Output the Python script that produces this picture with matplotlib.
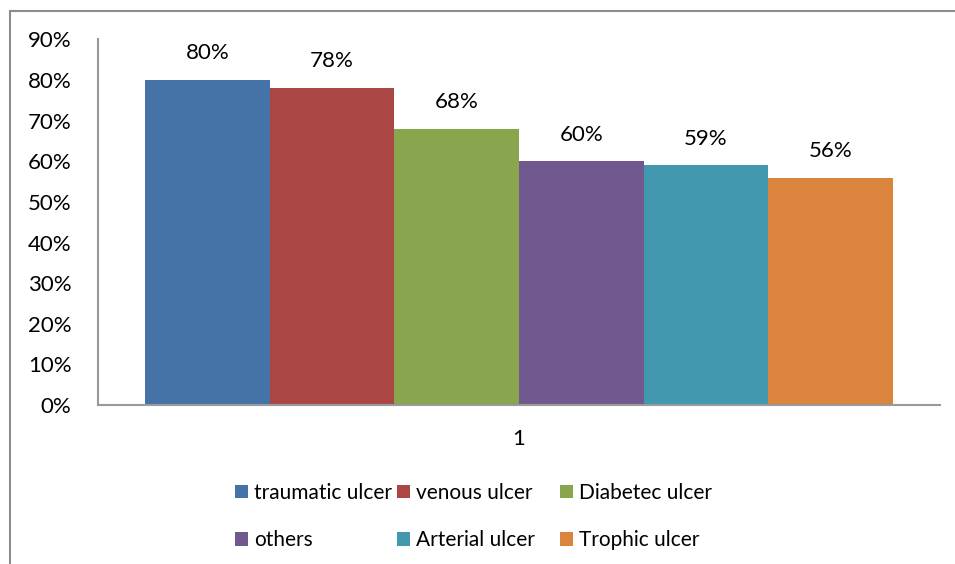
import matplotlib.pyplot as plt
from matplotlib.lines import Line2D
from matplotlib.patches import Patch

# Porcentaje por tipo de úlcera
categorias = ["traumatic ulcer", "venous ulcer", "Diabetec ulcer",
              "others", "Arterial ulcer", "Trophic ulcer"]
valores = [80, 78, 68, 60, 59, 56]
colores = ["#4572A7", "#AA4643", "#89A54E", "#71588F", "#4198AF", "#DB843D"]
y_ticks = [0, 10, 20, 30, 40, 50, 60, 70, 80, 90]
x_label = "1"

plt.rcParams["font.family"] = ["Lato", "DejaVu Sans"]
fs = 16
fs_leyenda = 15

fig = plt.figure(figsize=(9.55, 5.64), dpi=100)
ax = fig.add_axes([98 / 955, 1 - 405 / 564, 842 / 955, 365.6 / 564])

pos = list(range(len(valores)))
barras = ax.bar(pos, valores, width=1.0, color=colores, edgecolor="none")

# Etiquetas de valor sobre cada barra
for b, v in zip(barras, valores):
    ax.annotate(f"{v}%", (b.get_x() + b.get_width() / 2, v),
                xytext=(0, 12), textcoords="offset points",
                ha="center", va="bottom", fontsize=fs, color="black")

ax.set_xlim(-0.877, 5.877)
ax.set_ylim(0, 90)
ax.set_yticks(y_ticks)
ax.set_yticklabels([f"{t}%" for t in y_ticks], fontsize=fs)
ax.set_xticks([2.5])
ax.set_xticklabels([x_label], fontsize=fs)
ax.tick_params(axis="y", length=0, pad=19)
ax.tick_params(axis="x", length=0, pad=17)

for lado in ["top", "right"]:
    ax.spines[lado].set_visible(False)
for lado in ["left", "bottom"]:
    ax.spines[lado].set_color("#9a9a9a")
    ax.spines[lado].set_linewidth(1.5)

# Leyenda: tres columnas de dos filas cada una
columnas = [(0, 3), (1, 4), (2, 5)]
col_x = [235, 397, 560]
for (i, j), x0 in zip(columnas, col_x):
    handles = [Patch(facecolor=colores[k], edgecolor="none", label=categorias[k]) for k in (i, j)]
    fig.legend(handles=handles, ncol=1, loc="upper left",
               bbox_to_anchor=(x0 / 955, 1 - 483 / 564),
               frameon=False, fontsize=fs_leyenda, handlelength=0.62, handleheight=0.62,
               handletextpad=0.3, labelspacing=1.3, borderpad=0, borderaxespad=0)

# Marco exterior del gráfico
fig.add_artist(Line2D([10 / 955, 10 / 955], [0, 1 - 10.5 / 564], color="#8c8c8c", lw=1.5))
fig.add_artist(Line2D([10 / 955, 1], [1 - 10.5 / 564, 1 - 10.5 / 564], color="#8c8c8c", lw=1.5))

fig.savefig("out.png", dpi=100)
